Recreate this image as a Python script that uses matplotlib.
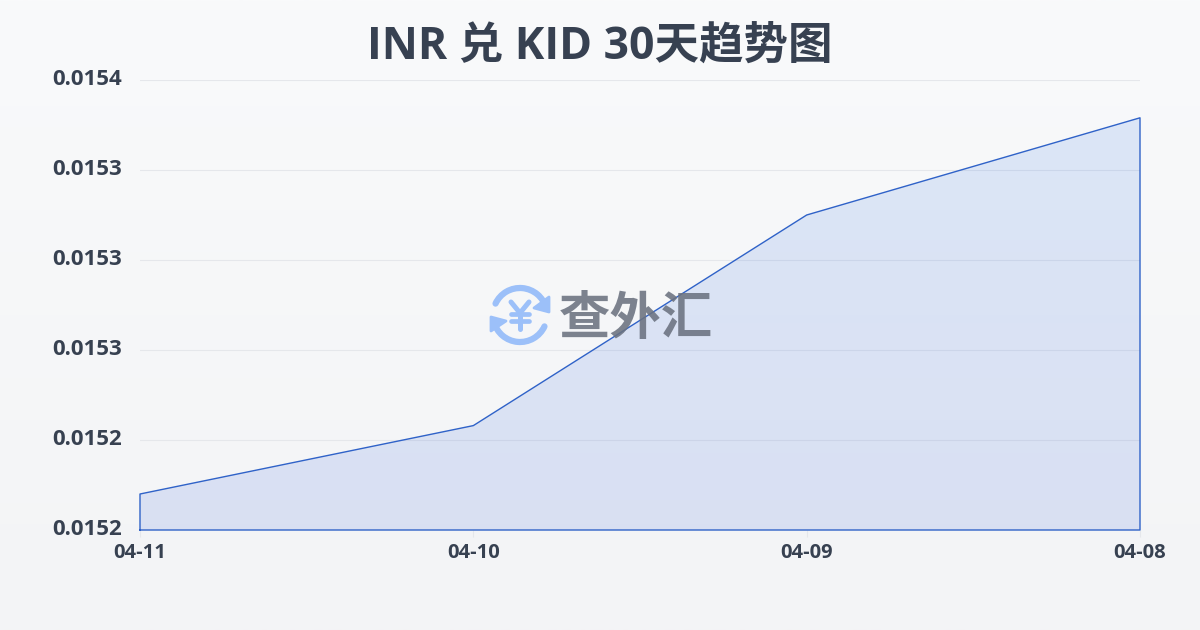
import numpy as np
import matplotlib
matplotlib.use('Agg')
import matplotlib.pyplot as plt
from matplotlib.patches import Arc, Polygon
from matplotlib.transforms import ScaledTranslation

plt.rcParams['font.family'] = ['Open Sans', 'Noto Sans CJK SC', 'DejaVu Sans']

# data
dates = ['04-11', '04-10', '04-09', '04-08']
rates = [0.015170, 0.015208, 0.015325, 0.015379]
y_ticks = [0.01515, 0.0152, 0.01525, 0.0153, 0.01535, 0.0154]
y_labels = ['0.0152', '0.0152', '0.0153', '0.0153', '0.0153', '0.0154']
title = 'INR 兑 KID 30天趋势图'
brand = '查外汇'

W, H = 1200, 630
TEXT = '#374151'
LINE = '#2f62c8'
LOGO = '#9cc0f9'

fig = plt.figure(figsize=(W / 100, H / 100), dpi=100)

# page background, soft vertical gradient
bg = fig.add_axes([0, 0, 1, 1], zorder=0)
grad = np.linspace(0, 1, 256).reshape(-1, 1)
top = np.array([0xf9, 0xfa, 0xfb]) / 255
bottom = np.array([0xf3, 0xf4, 0xf6]) / 255
bg.imshow(top + (bottom - top) * grad[..., None], aspect='auto')
bg.axis('off')

ax = fig.add_axes([140 / W, 1 - 530 / H, 1000 / W, 450 / H], zorder=1)
ax.patch.set_alpha(0)
x = np.arange(len(dates))

# area fill fades from a lighter blue to a slightly deeper one, clipped to the area
area = ax.fill_between(x, rates, y_ticks[0], color='none', linewidth=0)
fill_top = np.array([0x2f, 0x75, 0xe6, 0x24]) / 255
fill_bottom = np.array([0x2a, 0x5a, 0xd8, 0x22]) / 255
fill_img = fill_top + (fill_bottom - fill_top) * grad[..., None]
im = ax.imshow(fill_img, aspect='auto', zorder=2,
               extent=(x[0], x[-1], y_ticks[0], rates[-1]))
im.set_clip_path(area.get_paths()[0], transform=ax.transData)

# outline goes all the way round the area
ax.plot(np.r_[x[0], x, x[-1], x[0]], np.r_[y_ticks[0], rates, y_ticks[0], y_ticks[0]],
        color=LINE, lw=1, zorder=3, clip_on=False)
ax.set_xlim(x[0], x[-1])
ax.set_ylim(y_ticks[0], y_ticks[-1])
ax.set_xticks(x)
ax.set_xticklabels(dates, fontsize=14.5, fontweight='bold', color=TEXT)
ax.set_yticks(y_ticks)
ax.set_yticklabels(y_labels, fontsize=16, fontweight='bold', color=TEXT)
ax.tick_params(axis='y', length=0, pad=13)
ax.tick_params(axis='x', length=5, width=0.8, color='#e5e7eb', pad=4)
ax.grid(axis='y', color='#e5e7eb', lw=0.8, zorder=1)
ax.set_axisbelow(True)
for s in ax.spines.values():
    s.set_visible(False)

# y labels sit a little above their grid lines
up = ScaledTranslation(0, 2.5 / 72, fig.dpi_scale_trans)
for lab in ax.get_yticklabels():
    lab.set_transform(lab.get_transform() + up)

fig.text(600 / W, 1 - 47 / H, title, ha='center', va='center', fontsize=32,
         fontweight='bold', color=TEXT)

# watermark on top of the chart, drawn in pixel coordinates
wm = fig.add_axes([0, 0, 1, 1], zorder=2)
wm.set_xlim(0, W)
wm.set_ylim(H, 0)
wm.axis('off')
wm.patch.set_alpha(0)
cx, cy = 520, 315
wm.add_patch(Arc((cx, cy), 54, 54, theta1=205, theta2=345, color=LOGO, lw=4.5, capstyle='round'))
wm.add_patch(Arc((cx, cy), 54, 54, theta1=25, theta2=165, color=LOGO, lw=4.5, capstyle='round'))
wm.add_patch(Polygon([(549, 297), (549, 312), (534, 308)], color=LOGO, lw=2, joinstyle='round'))
wm.add_patch(Polygon([(491, 317), (491, 331), (506, 321)], color=LOGO, lw=2, joinstyle='round'))
wm.plot([511, cx, 529], [302, 313, 302], color=LOGO, lw=3.6, solid_capstyle='round')
wm.plot([cx, cx], [313, 329], color=LOGO, lw=3.6, solid_capstyle='round')
wm.plot([511, 529], [314, 314], color=LOGO, lw=3.4, solid_capstyle='round')
wm.plot([511, 529], [321, 321], color=LOGO, lw=3.4, solid_capstyle='round')
wm.text(636, 321, brand, ha='center', va='center', fontsize=37, fontweight='bold',
        color='#6b7280', alpha=0.88)

fig.savefig('out.png', dpi=100)
